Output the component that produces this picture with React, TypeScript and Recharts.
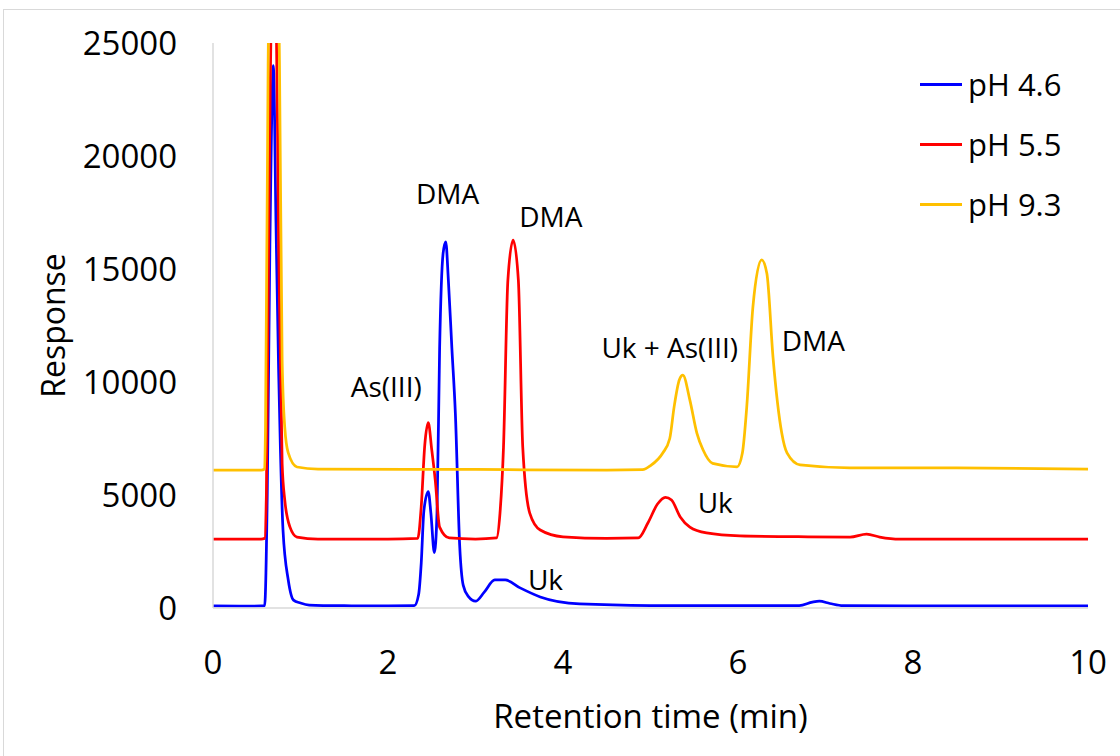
import React from "react";
import { LineChart, Line, XAxis, YAxis, ReferenceDot } from "recharts";

// [retention time (min), response]
const ph46: [number, number][] = [
  [0, 90], [0.3, 80], [0.55, 90], [0.59, 100], [0.62, 5000], [0.65, 16000], [0.69, 24000],
  [0.72, 17000], [0.75, 10500], [0.77, 7100], [0.8, 3450], [0.86, 1240], [0.92, 350],
  [1.0, 220], [1.1, 130], [1.5, 100], [2.0, 90], [2.3, 100], [2.35, 600], [2.38, 2000],
  [2.41, 4300], [2.46, 5150], [2.49, 4200], [2.53, 2450], [2.56, 4200], [2.59, 11500],
  [2.63, 15700], [2.66, 16200], [2.69, 14500], [2.73, 11500], [2.77, 8600], [2.82, 2700],
  [2.86, 1000], [2.92, 500], [3.0, 300], [3.1, 700], [3.22, 1240], [3.34, 1240],
  [3.51, 890], [3.74, 490], [4.19, 180], [5.0, 110], [6.0, 100], [6.7, 110], [6.85, 260],
  [6.93, 300], [7.05, 200], [7.2, 100], [8.5, 90], [10, 90],
];

const ph55: [number, number][] = [
  [0, 3050], [0.55, 3050], [0.59, 3080], [0.61, 5000], [0.64, 18000], [0.68, 28000],
  [0.72, 27000], [0.75, 16000], [0.79, 6400], [0.82, 4780], [0.88, 3580], [0.96, 3140],
  [1.2, 3050], [2.0, 3050], [2.34, 3080], [2.38, 4500], [2.42, 7200], [2.46, 8200],
  [2.5, 7000], [2.54, 5660], [2.59, 3580], [2.7, 3100], [3.0, 3050], [3.24, 3100],
  [3.28, 4200], [3.32, 7120], [3.37, 14500], [3.43, 16280], [3.49, 14500], [3.54, 7120],
  [3.62, 4200], [3.74, 3450], [4.0, 3150], [4.5, 3080], [4.86, 3100], [4.97, 3760],
  [5.08, 4600], [5.17, 4900], [5.24, 4780], [5.34, 4030], [5.45, 3580], [5.64, 3320],
  [6.02, 3190], [6.8, 3150], [7.28, 3140], [7.47, 3270], [7.62, 3140], [7.85, 3050],
  [10, 3050],
];

const ph93: [number, number][] = [
  [0, 6100], [0.55, 6100], [0.59, 6150], [0.6, 8000], [0.63, 24000], [0.66, 32000],
  [0.72, 32000], [0.76, 24000], [0.79, 11000], [0.82, 8000], [0.86, 6860], [0.96, 6240],
  [1.2, 6150], [3, 6130], [4.5, 6100], [4.91, 6120], [5.0, 6300], [5.14, 6860],
  [5.22, 7500], [5.27, 8900], [5.33, 10100], [5.37, 10300], [5.45, 9200], [5.53, 7740],
  [5.6, 7000], [5.71, 6400], [5.99, 6250], [6.05, 6860], [6.1, 8900], [6.17, 13300],
  [6.27, 15400], [6.33, 14800], [6.4, 11100], [6.5, 7740], [6.56, 6860], [6.71, 6330],
  [7.28, 6200], [8.5, 6200], [10, 6150],
];

const xTicks = [0, 2, 4, 6, 8, 10];
const yTicks = [0, 5000, 10000, 15000, 20000, 25000];

const peakLabels: { text: string; t: number; v: number }[] = [
  { text: "DMA", t: 2.68, v: 18300 },
  { text: "DMA", t: 3.86, v: 17300 },
  { text: "As(III)", t: 1.98, v: 9780 },
  { text: "Uk", t: 3.8, v: 1240 },
  { text: "Uk + As(III)", t: 5.22, v: 11500 },
  { text: "DMA", t: 6.86, v: 11800 },
  { text: "Uk", t: 5.74, v: 4650 },
];

const FONT = "'Open Sans', 'Noto Sans', sans-serif";

const series = [
  { name: "pH 4.6", color: "#0000FF", points: ph46 },
  { name: "pH 5.5", color: "#FF0000", points: ph55 },
  { name: "pH 9.3", color: "#FFC000", points: ph93 },
];

const toRows = (pts: [number, number][]) => pts.map(([t, v]) => ({ t, v }));

function LegendBox() {
  return (
    <div style={{ position: "absolute", left: 920, top: 54, fontFamily: FONT }}>
      {series.map((s) => (
        <div key={s.name} style={{ display: "flex", alignItems: "center", height: 60 }}>
          <span style={{ display: "inline-block", width: 42, height: 3, background: s.color }} />
          <span style={{ marginLeft: 6, fontSize: 31, color: "#000" }}>{s.name}</span>
        </div>
      ))}
    </div>
  );
}

export default function App() {
  return (
    <div
      style={{
        position: "absolute",
        left: 0,
        top: 0,
        width: 1120,
        height: 756,
        overflow: "hidden",
        background: "#fff",
        fontFamily: FONT,
      }}
    >
      <div
        style={{
          position: "absolute",
          left: 3,
          top: 9,
          width: 1200,
          height: 800,
          border: "1px solid #d9d9d9",
        }}
      />
      <div style={{ position: "absolute", left: 0, top: 0 }}>
        <LineChart width={1120} height={756} margin={{ top: 43, right: 32, left: 0, bottom: 0 }}>
          <XAxis
            type="number"
            dataKey="t"
            domain={[0, 10]}
            ticks={xTicks}
            allowDataOverflow
            height={148}
            tickLine={false}
            axisLine={{ stroke: "#d9d9d9", strokeWidth: 1.5 }}
            tick={{ fill: "#000", fontSize: 33, fontFamily: FONT }}
            tickMargin={37}
            label={{
              value: "Retention time (min)",
              position: "insideBottom",
              offset: 28,
              fontSize: 33,
              fill: "#000",
              fontFamily: FONT,
            }}
          />
          <YAxis
            type="number"
            domain={[0, 25000]}
            ticks={yTicks}
            allowDataOverflow
            width={213}
            tickLine={false}
            axisLine={{ stroke: "#d9d9d9", strokeWidth: 1.5 }}
            tick={{ fill: "#000", fontSize: 33, fontFamily: FONT }}
            tickMargin={30}
            label={(props: any) => {
              const vb = props.viewBox || {};
              const cy = (vb.y ?? 43) + (vb.height ?? 565) / 2;
              return (
                <text
                  x={52}
                  y={cy}
                  transform={`rotate(-90 52 ${cy})`}
                  textAnchor="middle"
                  dominantBaseline="central"
                  fontSize={32}
                  fill="#000"
                  fontFamily={FONT}
                >
                  Response
                </text>
              );
            }}
          />
          {series.map((s) => (
            <Line
              key={s.name}
              name={s.name}
              data={toRows(s.points)}
              dataKey="v"
              type="monotone"
              stroke={s.color}
              strokeWidth={2.75}
              dot={false}
              activeDot={false}
              isAnimationActive={false}
            />
          ))}
          {peakLabels.map((p, i) => (
            <ReferenceDot
              key={i}
              x={p.t}
              y={p.v}
              r={0}
              fill="none"
              stroke="none"
              label={{ value: p.text, position: "center", fontSize: 28, fill: "#000", fontFamily: FONT }}
            />
          ))}
        </LineChart>
      </div>
      <LegendBox />
    </div>
  );
}
